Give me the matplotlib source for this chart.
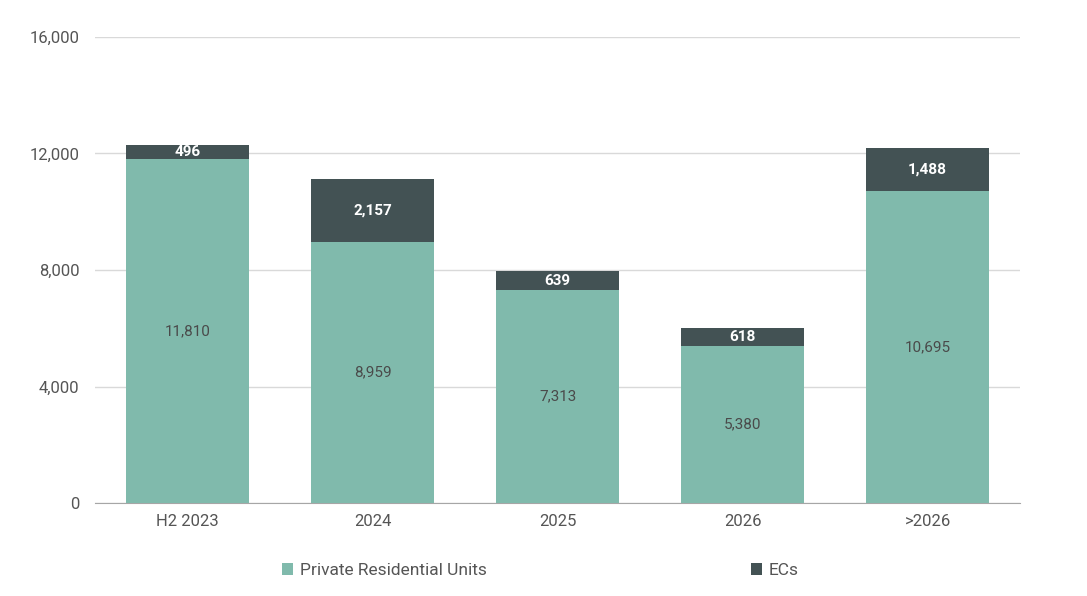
import matplotlib
matplotlib.use('Agg')
import matplotlib.pyplot as plt
import numpy as np

plt.rcParams['font.family'] = ['Roboto', 'DejaVu Sans']

categories = ['H2 2023', '2024', '2025', '2026', '>2026']
private_units = [11810, 8959, 7313, 5380, 10695]
ecs = [496, 2157, 639, 618, 1488]

green = '#80baac'
dark = '#435254'

fig = plt.figure(figsize=(10.87, 5.96), dpi=100)
ax = fig.add_axes([0.0874, 0.156, 0.851, 0.782])

x = np.arange(len(categories))
w = 0.66
b1 = ax.bar(x, private_units, w, color=green, label='Private Residential Units', zorder=3)
b2 = ax.bar(x, ecs, w, bottom=private_units, color=dark, label='ECs', zorder=3)

for i in range(len(categories)):
    ax.text(x[i], private_units[i] / 2, f'{private_units[i]:,}', ha='center', va='center',
            color='#4a4a4a', fontsize=11)
    ax.text(x[i], private_units[i] + ecs[i] / 2, f'{ecs[i]:,}', ha='center', va='center',
            color='white', fontsize=11, fontweight='bold')

ax.set_xlim(-0.5, 4.5)
ax.set_ylim(0, 16000)
ax.set_yticks([0, 4000, 8000, 12000, 16000])
ax.set_yticklabels([f'{v:,}' for v in [0, 4000, 8000, 12000, 16000]])
ax.set_xticks(x)
ax.set_xticklabels(categories)
ax.grid(axis='y', color='#d9d9d9', linewidth=1, zorder=0)
for s in ['top', 'right', 'left']:
    ax.spines[s].set_visible(False)
ax.spines['bottom'].set_color('#a6a6a6')
ax.tick_params(axis='both', length=0, colors='#555555', labelsize=12)
ax.tick_params(axis='y', pad=11)
ax.tick_params(axis='x', pad=8)

fig.legend(handles=[b1, b2], loc='center', bbox_to_anchor=(0.497, 0.043), ncol=2,
           frameon=False, fontsize=12.5, handlelength=0.65, handleheight=0.65,
           handletextpad=0.4, columnspacing=15.2, labelcolor='#555555')

fig.savefig('out.png', dpi=100)
